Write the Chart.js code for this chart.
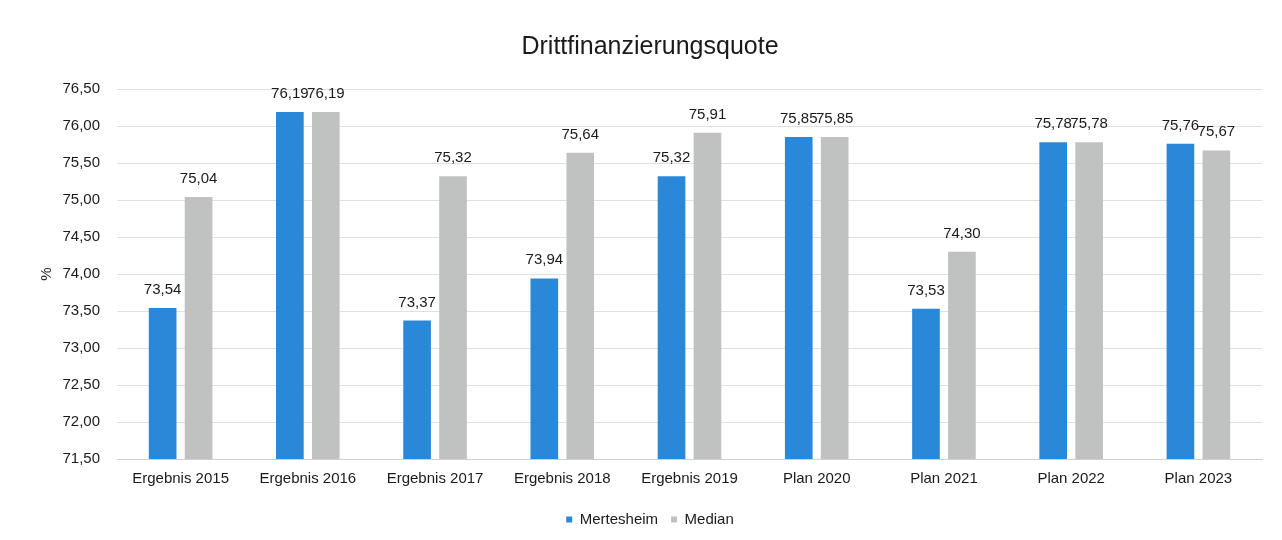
<!DOCTYPE html>
<html>
<head>
<meta charset="utf-8">
<script src="https://cdn.jsdelivr.net/npm/chart.js@4"></script>
<style>
  html, body { margin: 0; padding: 0; background: #fff; }
  #wrap { width: 1282px; height: 540px; }
</style>
</head>
<body>
<div id="wrap"><canvas id="chart" width="1282" height="540"></canvas></div>
<script>
const categories = ['Ergebnis 2015', 'Ergebnis 2016', 'Ergebnis 2017', 'Ergebnis 2018', 'Ergebnis 2019', 'Plan 2020', 'Plan 2021', 'Plan 2022', 'Plan 2023'];
const mertesheim = [73.54, 76.19, 73.37, 73.94, 75.32, 75.85, 73.53, 75.78, 75.76];
const median = [75.04, 76.19, 75.32, 75.64, 75.91, 75.85, 74.30, 75.78, 75.67];
const yMin = 71.5, yMax = 76.5, yStep = 0.5;

const FONT = 'Arial, "Liberation Sans", sans-serif';
const fmt = v => Number(v).toFixed(2).replace('.', ',');

// draws the value above each bar
const valueLabels = {
  id: 'valueLabels',
  afterDatasetsDraw(chart) {
    const ctx = chart.ctx;
    ctx.save();
    ctx.font = '15px ' + FONT;
    ctx.fillStyle = '#1a1a1a';
    ctx.textAlign = 'center';
    ctx.textBaseline = 'alphabetic';
    chart.data.datasets.forEach((ds, i) => {
      chart.getDatasetMeta(i).data.forEach((bar, j) => {
        ctx.fillText(fmt(ds.data[j]), bar.x, bar.y - 14);
      });
    });
    ctx.restore();
  }
};

new Chart(document.getElementById('chart'), {
  type: 'bar',
  data: {
    labels: categories,
    datasets: [
      { label: 'Mertesheim', data: mertesheim, backgroundColor: '#2b88d8' },
      { label: 'Median', data: median, backgroundColor: '#c0c2c1' }
    ]
  },
  options: {
    responsive: false,
    animation: false,
    layout: { padding: { left: 38, right: 20, top: 10, bottom: 3 } },
    datasets: { bar: { categoryPercentage: 0.565, barPercentage: 0.77 } },
    plugins: {
      title: {
        display: true,
        text: 'Drittfinanzierungsquote',
        color: '#1a1a1a',
        font: { family: FONT, size: 25, weight: 'normal' },
        padding: { top: 22, bottom: 27 }
      },
      legend: {
        position: 'bottom',
        labels: {
          color: '#1a1a1a',
          font: { family: FONT, size: 15 },
          boxWidth: 6,
          boxHeight: 6,
          padding: 13
        }
      },
      tooltip: { enabled: false }
    },
    scales: {
      x: {
        grid: { display: false, drawTicks: false },
        border: { color: '#d0d0d0' },
        ticks: { color: '#1a1a1a', font: { family: FONT, size: 15 }, padding: 11 }
      },
      y: {
        min: yMin,
        max: yMax,
        afterFit: scale => { scale.width = 79; },
        ticks: {
          stepSize: yStep,
          color: '#1a1a1a',
          font: { family: FONT, size: 15 },
          padding: 17,
          callback: v => fmt(v)
        },
        grid: { color: '#e0e0e0', drawTicks: false },
        border: { display: false },
        title: {
          display: true,
          text: '%',
          color: '#1a1a1a',
          font: { family: FONT, size: 15 },
          padding: 0
        }
      }
    }
  },
  plugins: [valueLabels]
});
</script>
</body>
</html>
